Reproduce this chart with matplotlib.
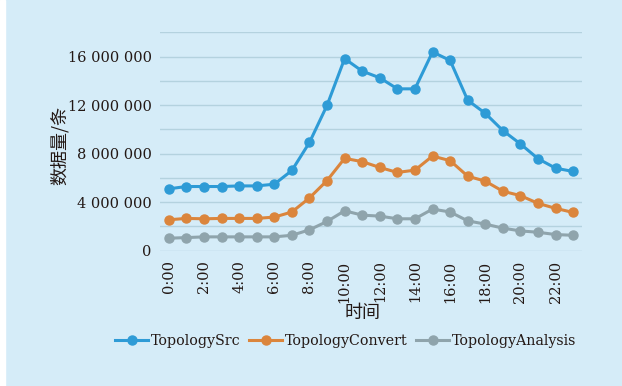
import matplotlib
matplotlib.use("Agg")
import matplotlib.pyplot as plt
from matplotlib.ticker import FuncFormatter, MultipleLocator
import numpy as np

hours = [f"{h}:00" for h in range(24)]
src = [5.10, 5.29, 5.29, 5.29, 5.34, 5.34, 5.48, 6.61, 8.92, 11.98, 15.83, 14.80,
       14.25, 13.34, 13.34, 16.38, 15.68, 12.40, 11.32, 9.90, 8.80, 7.58, 6.80, 6.53]
convert = [2.55, 2.66, 2.63, 2.66, 2.66, 2.66, 2.77, 3.19, 4.35, 5.78, 7.61, 7.34,
           6.86, 6.45, 6.64, 7.80, 7.42, 6.14, 5.73, 4.90, 4.54, 3.90, 3.49, 3.15]
analysis = [1.03, 1.08, 1.14, 1.14, 1.14, 1.14, 1.14, 1.27, 1.72, 2.41, 3.29, 2.93,
            2.85, 2.63, 2.63, 3.43, 3.19, 2.46, 2.19, 1.86, 1.63, 1.52, 1.33, 1.27]
series = {"TopologySrc": src, "TopologyConvert": convert, "TopologyAnalysis": analysis}
colors = ["#2E9BD6", "#DB853C", "#8FA4AC"]

bg = "#D5ECF8"
txt = "#231815"
serif = ["DejaVu Serif"]
cjk = ["Noto Sans CJK SC", "DejaVu Sans"]

fig = plt.figure(figsize=(6.22, 3.86), dpi=100, facecolor=bg)
fig.patches.append(plt.Rectangle((0, 0), 5 / 622, 1, transform=fig.transFigure,
                                 color="white", zorder=0))
ax = fig.add_axes([160 / 622, 1 - 250.7 / 386, 422 / 622, 218.4 / 386])
ax.set_facecolor(bg)

x = np.arange(len(hours))
for (name, vals), c in zip(series.items(), colors):
    ax.plot(x, np.array(vals) * 1e6, color=c, lw=2.2, marker="o", ms=6.5,
            label=name, zorder=3, clip_on=False)

ax.set_xlim(-0.5, 23.5)
ax.set_ylim(0, 18e6)
ax.yaxis.set_major_locator(MultipleLocator(4e6))
ax.yaxis.set_minor_locator(MultipleLocator(2e6))
ax.yaxis.set_major_formatter(FuncFormatter(lambda v, p: f"{int(v):,}".replace(",", " ")))
ax.grid(axis="y", which="both", color="#B4D2DF", lw=1.0, zorder=0)
for s in ax.spines.values():
    s.set_visible(False)
ax.tick_params(which="both", length=0)
ax.tick_params(axis="y", pad=6, labelsize=10.5, labelcolor=txt)
ax.set_xticks(x[::2])
ax.set_xticklabels(hours[::2], rotation=90, fontsize=10.5, color=txt, va="top")
ax.tick_params(axis="x", pad=7)
for lab in ax.get_yticklabels() + ax.get_xticklabels():
    lab.set_family(serif)

fig.text(60 / 622, 1 - 145 / 386, "数据量/条", rotation=90, ha="center", va="center",
         fontsize=13, color=txt, family=cjk)
fig.text(363 / 622, 1 - 313 / 386, "时间", ha="center", va="center",
         fontsize=13, color=txt, family=cjk)

leg = fig.legend(loc="center", bbox_to_anchor=(346 / 622, 1 - 341.5 / 386), ncol=3,
                 frameon=False, handlelength=2.3, handletextpad=0.2, columnspacing=0.6,
                 prop={"family": serif, "size": 10.3})
for t in leg.get_texts():
    t.set_color(txt)

fig.savefig("out.png", dpi=100, facecolor=bg)
